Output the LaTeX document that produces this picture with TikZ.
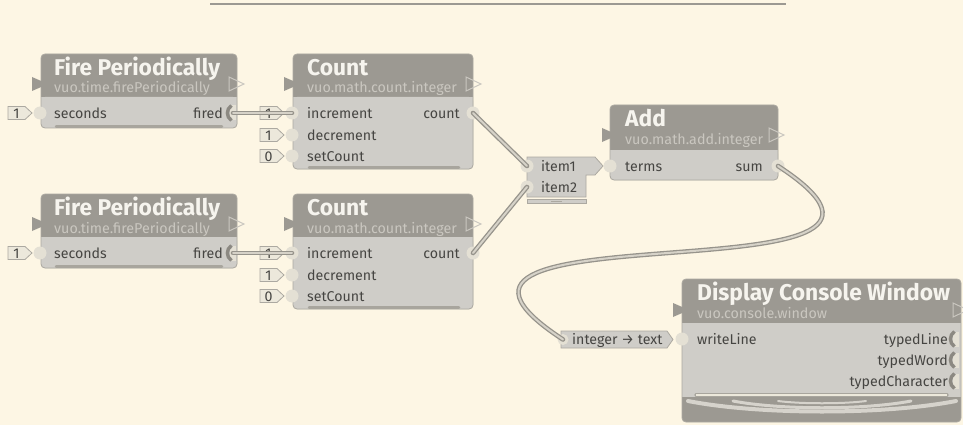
\documentclass[tikz,border=0pt]{standalone}
\usepackage{fontspec}
\setmainfont{Fira Sans}
\definecolor{bg}{RGB}{253,246,228}
\definecolor{hdr}{RGB}{156,153,146}
\definecolor{trigc}{RGB}{140,137,130}
\definecolor{bodyc}{RGB}{207,205,200}
\definecolor{edgec}{RGB}{172,169,161}
\definecolor{portc}{RGB}{228,224,212}
\definecolor{constc}{RGB}{236,232,219}
\definecolor{lbl}{RGB}{70,69,66}
\definecolor{ttl}{RGB}{246,244,238}
\definecolor{subc}{RGB}{202,199,192}
\definecolor{cabout}{RGB}{150,147,139}
\definecolor{cabin}{RGB}{214,210,200}
\definecolor{barc}{RGB}{168,165,157}
\definecolor{arcc}{RGB}{214,211,204}
\tikzset{
  ttlstyle/.style={inner sep=0, text=ttl, font=\fontsize{22.8}{26}\selectfont\bfseries, anchor=base west},
  substyle/.style={inner sep=0, text=subc, font=\fontsize{14.3}{16}\selectfont, anchor=base west},
  lblstyle/.style={inner sep=0, text=lbl, font=\fontsize{14.2}{16}\selectfont, anchor=base west},
  rlblstyle/.style={lblstyle, anchor=base east},
  portstyle/.style={circle, fill=portc, minimum size=13pt, inner sep=0, draw=none},
  constbox/.style={fill=constc, draw=edgec, line width=0.8pt},
  cable/.style={draw=cabout, double=cabin, double distance=2pt, line width=1.3pt, line cap=round},
  trifill/.style={fill=hdr},
  triline/.style={draw=subc, line width=1pt},
  barstyle/.style={draw=barc, line width=2.5pt, line cap=round},
  arcstyle/.style={draw=arcc, line cap=round},
}
\newcommand{\vuobox}[5]{%
  \fill[hdr, rounded corners=4pt] (#1,#2) rectangle (#3,#5);
  \fill[bodyc, rounded corners=4pt] (#1,#4) rectangle (#3,#5);
  \fill[bodyc] (#1,#4) rectangle (#3,{#4+6});
  \draw[edgec, line width=0.8pt, rounded corners=4pt] (#1,#2) rectangle (#3,#5);
}
\newcommand{\ltri}[2]{\fill[trifill] (#1,{#2-7}) -- ({#1+16},#2) -- (#1,{#2+7}) -- cycle;}
\newcommand{\rtri}[2]{\draw[triline] (#1,{#2-7}) -- ({#1+15},#2) -- (#1,{#2+7}) -- cycle;}
\newcommand{\constv}[4]{%
  \draw[constbox] (#2,{#3-6.5}) -- ({#2+17},{#3-6.5}) -- ({#2+24},#3) -- ({#2+17},{#3+6.5}) -- (#2,{#3+6.5}) -- cycle;
  \node[lblstyle, anchor=base] (#1) at ({#2+8.5},{#3+5}) {#4};
}
\newcommand{\trigport}[3]{%
  \fill[portc] ({#2+3},{#3-7.5}) rectangle ({#2+9},{#3+7.5});
  \draw[trigc, line width=3.4pt] ({#2+4.5},{#3-7.5}) .. controls ({#2-1},{#3-4}) and ({#2-1},{#3+4}) .. ({#2+4.5},{#3+7.5});
  \coordinate (#1) at ({#2+6},#3);
}
\begin{document}
\begin{tikzpicture}[x=1pt,y=-1pt]
\fill[bg] (0,0) rectangle (963,425);
\useasboundingbox (0,0) rectangle (963,425);
% top rule
\draw[hdr, line width=2pt] (210,4.5) -- (786,4.5);

% ---------- Fire Periodically 1
\vuobox{41}{54}{237}{97}{128}
\ltri{32}{84}\rtri{229}{84}
\node[ttlstyle] (fp1t) at (54,75.5) {Fire Periodically};
\node[substyle] (fp1s) at (54,93) {vuo.time.firePeriodically};
\constv{fp1c}{8}{113}{1}
\node[portstyle] (fp1sec) at (40,113) {};
\node[lblstyle] (fp1l) at (54,118) {seconds};
\node[rlblstyle] (fp1fl) at (223,118) {fired};
\trigport{fp1f}{227}{113}
\draw[barstyle] (56,126.5) -- (222,126.5);

% ---------- Fire Periodically 2
\vuobox{41}{194}{237}{237}{268}
\ltri{32}{224}\rtri{229}{224}
\node[ttlstyle] (fp2t) at (54,215.5) {Fire Periodically};
\node[substyle] (fp2s) at (54,233) {vuo.time.firePeriodically};
\constv{fp2c}{8}{253}{1}
\node[portstyle] (fp2sec) at (40,253) {};
\node[lblstyle] (fp2l) at (54,258) {seconds};
\node[rlblstyle] (fp2fl) at (223,258) {fired};
\trigport{fp2f}{227}{253}
\draw[barstyle] (56,266.5) -- (222,266.5);

% ---------- Count 1
\vuobox{293}{54}{473}{97}{169}
\ltri{284}{84}\rtri{466}{84}
\node[ttlstyle] (c1t) at (307,75.5) {Count};
\node[substyle] (c1s) at (307,93) {vuo.math.count.integer};
\constv{c1ca}{260}{113}{1}
\constv{c1cb}{260}{135}{1}
\constv{c1cc}{260}{156}{0}
\node[portstyle] (c1inc) at (292,113) {};
\node[portstyle] (c1dec) at (292,135) {};
\node[portstyle] (c1set) at (292,156) {};
\node[lblstyle] (c1la) at (307,118) {increment};
\node[lblstyle] (c1lb) at (307,140) {decrement};
\node[lblstyle] (c1lc) at (307,161) {setCount};
\node[rlblstyle] (c1lo) at (460,118) {count};
\node[portstyle] (c1out) at (473,113) {};
\draw[barstyle] (309,167.5) -- (459,167.5);

% ---------- Count 2
\vuobox{293}{194}{473}{237}{309}
\ltri{284}{224}\rtri{466}{224}
\node[ttlstyle] (c2t) at (307,215.5) {Count};
\node[substyle] (c2s) at (307,233) {vuo.math.count.integer};
\constv{c2ca}{260}{253}{1}
\constv{c2cb}{260}{275}{1}
\constv{c2cc}{260}{296}{0}
\node[portstyle] (c2inc) at (292,253) {};
\node[portstyle] (c2dec) at (292,275) {};
\node[portstyle] (c2set) at (292,296) {};
\node[lblstyle] (c2la) at (307,258) {increment};
\node[lblstyle] (c2lb) at (307,280) {decrement};
\node[lblstyle] (c2lc) at (307,301) {setCount};
\node[rlblstyle] (c2lo) at (460,258) {count};
\node[portstyle] (c2out) at (473,253) {};
\draw[barstyle] (309,307.5) -- (459,307.5);

% ---------- Make list
\draw[fill=bodyc, draw=edgec, line width=0.8pt] (527,157) -- (595,157) -- (603,166) -- (595,175) -- (586,175) -- (586,197) -- (527,197) -- cycle;
\draw[fill=bodyc, draw=edgec, line width=0.8pt] (527,199) rectangle (586,203.5);
\draw[edgec, line width=0.8pt] (551,201.3) -- (562,201.3);
\node[portstyle] (item1p) at (527,166) {};
\node[portstyle] (item2p) at (527,187) {};
\node[lblstyle] (item1l) at (541,171.5) {item1};
\node[lblstyle] (item2l) at (541,192) {item2};

% ---------- Add
\vuobox{610}{105}{778}{150}{180}
\ltri{602}{135}\rtri{769}{135}
\node[ttlstyle] (addt) at (625,127) {Add};
\node[substyle] (adds) at (625,144) {vuo.math.add.integer};
\node[portstyle] (terms) at (610,166) {};
\node[lblstyle] (termsl) at (625,171) {terms};
\node[rlblstyle] (suml) at (763,171) {sum};
\node[portstyle] (sum) at (778,166) {};

% ---------- Display Console Window
\fill[hdr, rounded corners=4pt] (682,279) rectangle (961,422);
\fill[bodyc] (682,323) rectangle (961,397);
\draw[edgec, line width=0.8pt, rounded corners=4pt] (682,279) rectangle (961,422);
\ltri{673}{310}\rtri{953}{310}
\node[ttlstyle] (dcwt) at (697,300.5) {Display Console Window};
\node[substyle] (dcws) at (697,318) {vuo.console.window};
\node[portstyle] (wline) at (682,339) {};
\node[lblstyle] (wlinel) at (697,344) {writeLine};
\node[rlblstyle] (tl) at (948,344) {typedLine};
\node[rlblstyle] (tw) at (948,365) {typedWord};
\node[rlblstyle] (tc) at (948,386) {typedCharacter};
\trigport{tlp}{950}{339}
\trigport{twp}{950}{360}
\trigport{tcp}{950}{381}
\draw[draw=barc, line width=3.2pt, line cap=round] (696,395) -- (947,395);
\draw[draw=constc, line width=1.3pt] (696,395) -- (947,395);
\draw[arcstyle, line width=4pt] (688,401) .. controls (760,415) and (884,415) .. (956,401);
\draw[arcstyle, line width=3pt] (733,401) .. controls (780,410) and (864,410) .. (911,401);
\draw[arcstyle, line width=2pt] (778,401) .. controls (800,404) and (844,404) .. (866,401);

% ---------- converter integer -> text
\draw[fill=bodyc, draw=edgec, line width=0.8pt] (561,331) -- (667,331) -- (673,339.5) -- (667,348) -- (561,348) -- cycle;
\node[portstyle, minimum size=11pt] (conv) at (563,339.5) {};
\node[lblstyle] (convl) at (572,344.5) {integer → text};

% ---------- cables
\draw[cable] (fp1f) -- (c1inc.center);
\draw[cable] (fp2f) -- (c2inc.center);
\draw[cable] (c1out.center) -- (item1p.center);
\draw[cable] (c2out.center) -- (item2p.center);
\draw[cable] (sum.center) .. controls +(215,140) and +(-215,-140) .. (conv.center);
\end{tikzpicture}
\end{document}
